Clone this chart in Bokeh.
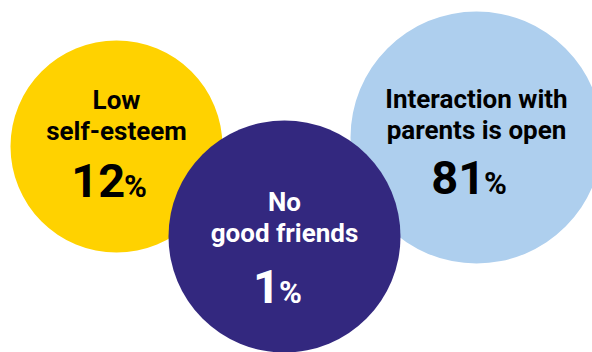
from bokeh.plotting import figure
from bokeh.models import Range1d, ColumnDataSource
from bokeh.core.properties import value
from bokeh.embed import file_html
from bokeh.resources import INLINE

# ---- data ----
categories = ["Low\nself-esteem", "Interaction with\nparents is open", "No\ngood friends"]
percentages = [12, 81, 1]
fill_colors = ["#FFD200", "#AECFEE", "#33287F"]
text_colors = ["#000000", "#000000", "#FFFFFF"]

# ---- layout (pixel positions, y downward; y = visual centre of each line) ----
circle_x = [116, 476, 284]
circle_y = [146, 137, 236]
circle_r = [106, 126, 116]
line1_y = [99, 98, 201]
number_y = [180, 177, 286]

W, H = 592, 352
p = figure(width=W, height=H, output_backend="svg", toolbar_location=None,
           x_range=Range1d(0, W), y_range=Range1d(H, 0), min_border=0)
p.axis.visible = False
p.grid.visible = False
p.outline_line_color = None
p.background_fill_color = "white"
p.border_fill_color = "white"

src = ColumnDataSource(dict(x=circle_x, y=circle_y, r=circle_r, c=fill_colors))
p.circle(x="x", y="y", radius="r", fill_color="c", line_color=None, source=src)

font = value("Roboto")
line_gap = 31
lx, ly, lt, lc = [], [], [], []
for i, lab in enumerate(categories):
    for j, ln in enumerate(lab.split("\n")):
        lx.append(circle_x[i]); ly.append(line1_y[i] + j * line_gap)
        lt.append(ln); lc.append(text_colors[i])
p.text(x=lx, y=ly, text=lt, text_color=lc, text_font=font, text_font_size="26px",
       text_font_style="bold", text_align="center", text_baseline="middle")

num_size = 47
pct_size = 31
pct_w = 26
nx, pxs, nt, py = [], [], [], []
for i, v in enumerate(percentages):
    s = str(v)
    w = sum(0.36 if ch == "1" else 0.56 for ch in s) * num_size
    split = circle_x[i] + (w - pct_w) / 2
    nx.append(split); pxs.append(split - 1); nt.append(s)
    py.append(number_y[i] + 0.355 * (num_size - pct_size))
p.text(x=nx, y=number_y, text=nt, text_color=text_colors, text_font=font,
       text_font_size=f"{num_size}px", text_font_style="bold",
       text_align="right", text_baseline="middle")
p.text(x=pxs, y=py, text=["%"] * len(percentages), text_color=text_colors,
       text_font=font, text_font_size=f"{pct_size}px", text_font_style="bold",
       text_align="left", text_baseline="middle")

open("out.html", "w").write(file_html(p, INLINE))
